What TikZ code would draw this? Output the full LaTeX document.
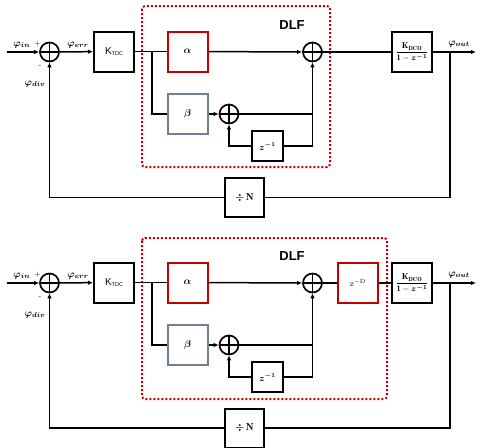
\documentclass[tikz,border=0pt]{standalone}
\usepackage{fontspec}
\usepackage{amsmath,bm}
\usetikzlibrary{arrows.meta,calc}
\newfontfamily\arialf{Liberation Sans}
\definecolor{dred}{HTML}{C00000}
\definecolor{slate}{HTML}{6F7F99}
\tikzset{
  ln/.style={line width=1.5pt, draw=black},
  arr/.style={ln, -{Latex[length=5pt,width=4.5pt]}},
  blk/.style={draw, line width=2pt, minimum width=40pt, minimum height=40pt, inner sep=0pt},
  redblk/.style={blk, draw=dred},
  slateblk/.style={blk, draw=slate},
  smallblk/.style={blk, minimum width=31pt, minimum height=30pt},
  sumn/.style={circle, draw, line width=1.7pt, minimum size=19pt, inner sep=0pt,
    path picture={\draw[line width=1.5pt] (path picture bounding box.north) -- (path picture bounding box.south)
      (path picture bounding box.west) -- (path picture bounding box.east);}},
  lbl/.style={inner sep=0pt, font=\fontsize{10}{11}\selectfont},
  inlbl/.style={font=\fontsize{10}{11}\selectfont},
  dlfbox/.style={draw=dred, line width=2pt, dash pattern=on 2pt off 2pt, rounded corners=3pt},
  dlflbl/.style={inner sep=0pt, font=\arialf\bfseries\fontsize{13}{14}\selectfont},
}
\newcommand{\ktdc}{{\arialf\fontsize{10}{11}\selectfont K\raisebox{-1.5pt}{\fontsize{5.5}{6}\selectfont TDC}}}
\newcommand{\kdco}{\fontsize{8.5}{9}\selectfont$\dfrac{\mathbf{K_{DCO}}}{\mathbf{1}-\boldsymbol{z}^{\boldsymbol{-1}}}$}
\begin{document}
\begin{tikzpicture}[x=1pt,y=-1pt]
\useasboundingbox (0,0) rectangle (483,448);
% ================= TOP =================
\coordinate (inA) at (7,52);
\node[sumn] (s1A) at (49.5,52) {};
\node[blk] (ktdcA) at (114,51.5) {\ktdc};
\coordinate (brA) at (152,51.5);
\node[redblk, inlbl] (alA) at (187.5,51.5) {$\boldsymbol{\alpha}$};
\node[slateblk, inlbl] (beA) at (187.5,114) {$\boldsymbol{\beta}$};
\node[sumn] (s2A) at (229,114) {};
\node[sumn] (s3A) at (312.5,52) {};
\coordinate (jA) at (312.5,114);
\coordinate (jzA) at (312.5,146);
\node[smallblk, font=\fontsize{9}{10}\selectfont] (zA) at (267.5,146) {$\boldsymbol{z^{-1}}$};
\node[blk] (kdA) at (412,52) {\kdco};
\coordinate (outA) at (476,52);
\coordinate (fbA) at (450,52);
\node[blk, inlbl, minimum width=39pt, minimum height=39pt] (dnA) at (244.5,197.5) {$\boldsymbol{\div}\,\mathbf{N}$};
\draw[dlfbox] (142,6) rectangle (330,167);
\node[dlflbl] (dlfA) at (292,25) {DLF};
\draw[arr] (inA) -- (s1A);
\draw[arr] (s1A) -- (ktdcA);
\draw[ln] (ktdcA) -- (brA);
\draw[ln] (brA) -- (alA);
\draw[ln] (brA) |- (beA);
\draw[arr] (alA) -- (s3A);
\draw[arr] (beA) -- (s2A);
\draw[ln] (s2A) -- (jA);
\draw[arr] (jA) -- (s3A);
\draw[ln] (jA) -- (jzA) -- (zA);
\draw[arr] (zA) -| (s2A);
\draw[ln] (s3A) -- (kdA);
\draw[arr] (kdA) -- (outA);
\draw[ln] (fbA) |- (dnA);
\draw[arr] (dnA) -| (s1A);
\node[lbl] (phiinA) at (22,45) {$\boldsymbol{\varphi_{in}}$};
\node[lbl] (plusA) at (37.5,44) {\fontsize{7}{8}\selectfont +};
\node[lbl] (minusA) at (40,67) {\fontsize{7}{8}\selectfont -};
\node[lbl] (phidivA) at (35,84) {$\boldsymbol{\varphi_{div}}$};
\node[lbl] (phierrA) at (78,45) {$\boldsymbol{\varphi_{err}}$};
\node[lbl] (phioutA) at (459,44) {$\boldsymbol{\varphi_{out}}$};
% ================= BOTTOM =================
\coordinate (inB) at (7,283);
\node[sumn] (s1B) at (49.5,283) {};
\node[blk] (ktdcB) at (114,282.5) {\ktdc};
\coordinate (brB) at (152,282.5);
\node[redblk, inlbl] (alB) at (187.5,282.5) {$\boldsymbol{\alpha}$};
\node[slateblk, inlbl] (beB) at (187.5,345) {$\boldsymbol{\beta}$};
\node[sumn] (s2B) at (229,345) {};
\node[sumn] (s3B) at (312.5,283) {};
\coordinate (jB) at (312.5,345);
\coordinate (jzB) at (312.5,377);
\node[smallblk, font=\fontsize{9}{10}\selectfont] (zB) at (267.5,377) {$\boldsymbol{z^{-1}}$};
\node[redblk, font=\fontsize{8}{9}\selectfont] (zdB) at (358,283) {$\mathrm{z}^{-\mathrm{D}}$};
\node[blk] (kdB) at (412,283) {\kdco};
\coordinate (outB) at (476,283);
\coordinate (fbB) at (450,283);
\node[blk, inlbl, minimum width=39pt, minimum height=39pt] (dnB) at (244.5,428) {$\boldsymbol{\div}\,\mathbf{N}$};
\draw[dlfbox] (142,238) rectangle (387,399);
\node[dlflbl] (dlfB) at (292,256) {DLF};
\draw[arr] (inB) -- (s1B);
\draw[arr] (s1B) -- (ktdcB);
\draw[ln] (ktdcB) -- (brB);
\draw[ln] (brB) -- (alB);
\draw[ln] (brB) |- (beB);
\draw[arr] (alB) -- (s3B);
\draw[arr] (beB) -- (s2B);
\draw[ln] (s2B) -- (jB);
\draw[arr] (jB) -- (s3B);
\draw[ln] (jB) -- (jzB) -- (zB);
\draw[arr] (zB) -| (s2B);
\draw[ln] (s3B) -- (zdB);
\draw[ln] (zdB) -- (kdB);
\draw[arr] (kdB) -- (outB);
\draw[ln] (fbB) |- (dnB);
\draw[arr] (dnB) -| (s1B);
\node[lbl] (phiinB) at (22,276) {$\boldsymbol{\varphi_{in}}$};
\node[lbl] (plusB) at (37.5,275) {\fontsize{7}{8}\selectfont +};
\node[lbl] (minusB) at (40,298) {\fontsize{7}{8}\selectfont -};
\node[lbl] (phidivB) at (35,315) {$\boldsymbol{\varphi_{div}}$};
\node[lbl] (phierrB) at (78,276) {$\boldsymbol{\varphi_{err}}$};
\node[lbl] (phioutB) at (459,275) {$\boldsymbol{\varphi_{out}}$};
\end{tikzpicture}
\end{document}
